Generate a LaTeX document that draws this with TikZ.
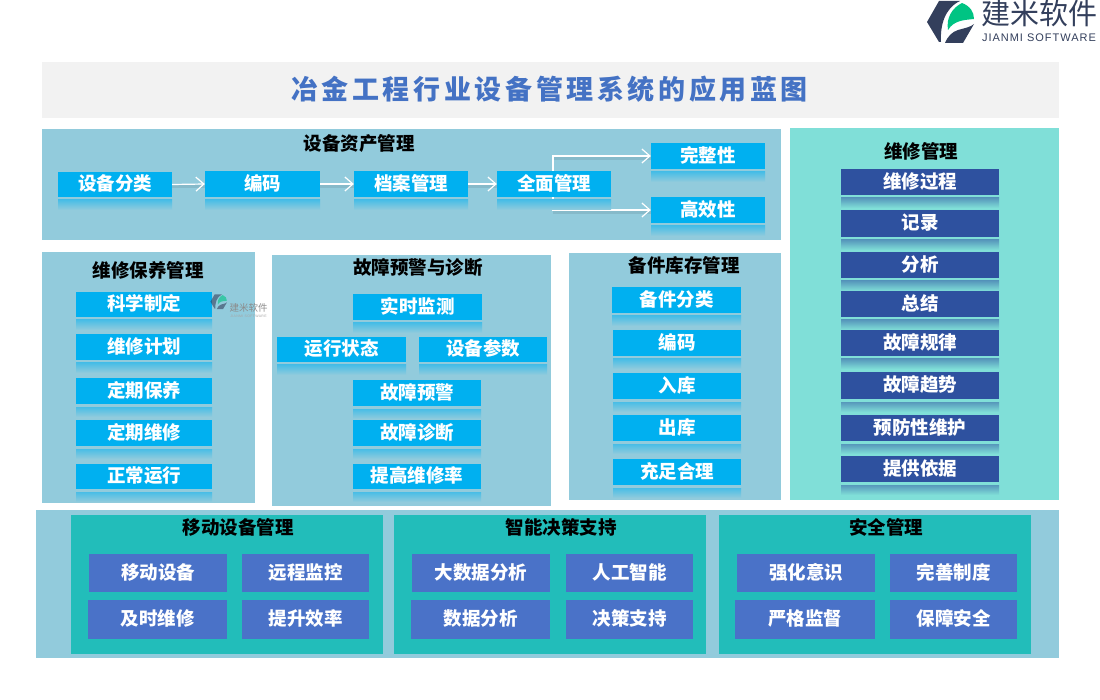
\documentclass[tikz,border=0pt]{standalone}
\usepackage{fontspec}
\setmainfont{Noto Sans CJK SC}
\newfontfamily\titlefont[LetterSpace=13.4]{Noto Sans CJK SC}
\newfontfamily\logofont[LetterSpace=9]{Liberation Sans}
\usetikzlibrary{arrows.meta}
\definecolor{panelblue}{RGB}{146,203,220}
\definecolor{panelmint}{RGB}{128,223,216}
\definecolor{panelteal}{RGB}{34,189,186}
\definecolor{skybox}{RGB}{0,176,240}
\definecolor{navybox}{RGB}{46,81,159}
\definecolor{slatebox}{RGB}{74,114,200}
\definecolor{titleblue}{RGB}{68,114,196}
\definecolor{logodark}{RGB}{51,63,92}
\definecolor{logogreen}{RGB}{0,196,131}
\tikzset{
  boxtext/.style={inner sep=0pt, text=white, font=\fontsize{18.5}{20}\selectfont\bfseries},
  paneltitle/.style={inner sep=0pt, text=black, font=\fontsize{18.5}{20}\selectfont\bfseries},
  flowline/.style={white, line width=1.2pt, -{Straight Barb[length=8pt,width=14pt]}},
  flowshadow/.style={black!40!panelblue, opacity=0.2, line width=3pt}
}
% box with its fading mirror strip under it
\newcommand{\mirrorbox}[8]{
  \shade [top color=#7!50!#8, bottom color=#8] (#3,#5+3) rectangle (#4,#5+13);
  \node [boxtext, fill=#7, minimum width={(#4-#3)*1pt}, minimum height={(#5-#2)*1pt}] (#1) at ({(#3+#4)/2},{(#2+#5)/2}) {\raisebox{1pt}[\height][\depth]{#6}};
}
% flat box of the lower row
\newcommand{\flatbox}[6]{
  \node [boxtext, fill=slatebox, minimum width={(#3-#2)*1pt}, minimum height={(#5-#4)*1pt}] (#1) at ({(#2+#3)/2},{(#4+#5)/2}) {\raisebox{0.6pt}[\height][\depth]{#6}};
}
\newcommand{\jmleaf}{
  \fill [logodark] (927,22) -- (939,1) -- (960,1) .. controls (945,8) and (940,25) .. (941,42) -- (939,42) -- cycle;
  \fill [logodark] (945,43) .. controls (948,36) and (952,32) .. (958,30) .. controls (965,28) and (971,27) .. (974,24) -- (963,43) -- cycle;
  \fill [logogreen] (948,30) .. controls (946,18) and (952,8) .. (962,3) .. controls (970,6) and (974,12) .. (974,19) .. controls (965,20) and (954,20) .. (948,30) -- cycle;
}
\begin{document}
\begin{tikzpicture}[x=1pt,y=-1pt]
\useasboundingbox (0,0) rectangle (1100,700);
\fill [white] (0,0) rectangle (1100,700);
% logo
\jmleaf
\node [inner sep=0pt, text=logodark, font=\fontsize{29}{30}\selectfont] (logoname) at (1039.5,13.5) {建米软件};
\node [inner sep=0pt, text=logodark, font=\logofont\fontsize{11}{12}\selectfont] (logoen) at (1039,38) {JIANMI SOFTWARE};
% title
\fill [black!5] (42,62) rectangle (1059,118);
\node [inner sep=0pt, text=titleblue, font=\titlefont\fontsize{27}{30}\selectfont\bfseries] (title) at (549.5,89) {冶金工程行业设备管理系统的应用蓝图};
% panels
\fill [panelblue] (42,129) rectangle (781,240);
\fill [panelblue] (42,252) rectangle (255,503);
\fill [panelblue] (272,255) rectangle (551,506);
\fill [panelblue] (569,253) rectangle (781,500);
\fill [panelmint] (790,128) rectangle (1059,500);
\fill [panelblue] (36,510) rectangle (1059,658);
\fill [panelteal] (71,515) rectangle (383,654);
\fill [panelteal] (394,515) rectangle (706,654);
\fill [panelteal] (719,515) rectangle (1031,654);
% panel titles
\node [paneltitle] (assettitle) at (359,144) {设备资产管理};
\node [paneltitle] (keeptitle) at (148,270) {维修保养管理};
\node [paneltitle] (faulttitle) at (418,267) {故障预警与诊断};
\node [paneltitle] (sparetitle) at (684,265) {备件库存管理};
\node [paneltitle] (repairtitle) at (921,151) {维修管理};
\node [paneltitle] (mobiletitle) at (238,527) {移动设备管理};
\node [paneltitle] (smarttitle) at (561,527) {智能决策支持};
\node [paneltitle] (safetitle) at (886,527) {安全管理};
% asset row
\mirrorbox{fenlei}{172}{58}{172}{197}{设备分类}{skybox}{panelblue}
\mirrorbox{bianma}{171}{205}{320}{197}{编码}{skybox}{panelblue}
\mirrorbox{dangan}{171}{354}{468}{197}{档案管理}{skybox}{panelblue}
\mirrorbox{wanzheng}{143}{651}{765}{169}{完整性}{skybox}{panelblue}
\mirrorbox{gaoxiao}{197}{651}{765}{223}{高效性}{skybox}{panelblue}
\coordinate (upout) at (553,171);
\coordinate (downout) at (553,197);
\draw [flowshadow] (172,187) -- (205,187);
\draw [flowshadow] (320,187) -- (354,187);
\draw [flowshadow] (468,187) -- (497,187);
\draw [flowshadow] (553,159) -- (651,159);
\draw [flowshadow] (553,213) -- (651,213);
\draw [flowline] (fenlei.east) -- (bianma.west);
\draw [flowline] (bianma.east) -- (dangan.west);
\draw [flowline] (upout) |- (wanzheng.west);
\draw [flowline] (downout) |- (gaoxiao.west);
\mirrorbox{quanmian}{171}{497}{611}{197}{全面管理}{skybox}{panelblue}
\draw [flowline] (dangan.east) -- (quanmian.west);
% keep column
\mirrorbox{kexue}{292}{76}{212}{317}{科学制定}{skybox}{panelblue}
\mirrorbox{jihua}{334}{76}{212}{360}{维修计划}{skybox}{panelblue}
\mirrorbox{baoyang}{378}{76}{212}{404}{定期保养}{skybox}{panelblue}
\mirrorbox{weixiu}{420}{76}{212}{446}{定期维修}{skybox}{panelblue}
\mirrorbox{yunxing}{464}{76}{212}{489}{正常运行}{skybox}{panelblue}
% fault column
\mirrorbox{jiance}{294}{353}{482}{320}{实时监测}{skybox}{panelblue}
\mirrorbox{zhuangtai}{337}{277}{406}{362}{运行状态}{skybox}{panelblue}
\mirrorbox{canshu}{337}{419}{547}{362}{设备参数}{skybox}{panelblue}
\mirrorbox{yujing}{380}{353}{481}{406}{故障预警}{skybox}{panelblue}
\mirrorbox{zhenduan}{420}{353}{481}{446}{故障诊断}{skybox}{panelblue}
\mirrorbox{tigao}{464}{353}{481}{489}{提高维修率}{skybox}{panelblue}
% spare column
\mirrorbox{beijian}{287}{612}{741}{313}{备件分类}{skybox}{panelblue}
\mirrorbox{spcode}{330}{613}{741}{356}{编码}{skybox}{panelblue}
\mirrorbox{ruku}{373}{613}{741}{399}{入库}{skybox}{panelblue}
\mirrorbox{chuku}{415}{613}{741}{441}{出库}{skybox}{panelblue}
\mirrorbox{chongzu}{459}{613}{741}{485}{充足合理}{skybox}{panelblue}
% repair column
\mirrorbox{guocheng}{169}{841}{999}{195}{维修过程}{navybox}{panelmint}
\mirrorbox{jilu}{210}{841}{999}{237}{记录}{navybox}{panelmint}
\mirrorbox{fenxi}{252}{841}{999}{278}{分析}{navybox}{panelmint}
\mirrorbox{zongjie}{291}{841}{999}{317}{总结}{navybox}{panelmint}
\mirrorbox{guilv}{330}{841}{999}{356}{故障规律}{navybox}{panelmint}
\mirrorbox{qushi}{372}{841}{999}{399}{故障趋势}{navybox}{panelmint}
\mirrorbox{yufang}{415}{841}{999}{441}{预防性维护}{navybox}{panelmint}
\mirrorbox{yiju}{456}{841}{999}{482}{提供依据}{navybox}{panelmint}
% lower row
\flatbox{yidong}{89}{227}{554}{592}{移动设备}
\flatbox{yuancheng}{242}{369}{554}{592}{远程监控}
\flatbox{jishi}{88}{227}{600}{639}{及时维修}
\flatbox{xiaolv}{242}{369}{600}{639}{提升效率}
\flatbox{dashuju}{412}{550}{554}{592}{大数据分析}
\flatbox{rengong}{566}{693}{554}{592}{人工智能}
\flatbox{shuju}{411}{550}{600}{639}{数据分析}
\flatbox{juece}{566}{693}{600}{639}{决策支持}
\flatbox{yishi}{737}{875}{554}{592}{强化意识}
\flatbox{zhidu}{890}{1017}{554}{592}{完善制度}
\flatbox{jiandu}{735}{875}{600}{639}{严格监督}
\flatbox{anquan}{890}{1017}{600}{639}{保障安全}
% watermark
\begin{scope}[shift={(-114,294)}, scale=0.35, opacity=0.6]
\jmleaf
\end{scope}
\node [inner sep=0pt, text=black!45, font=\fontsize{9.5}{10}\selectfont] (markname) at (248.5,308) {建米软件};
\node [inner sep=0pt, text=black!35, font=\logofont\fontsize{3.5}{4}\selectfont] (markeng) at (248.5,316.5) {JIANMI SOFTWARE};
\end{tikzpicture}
\end{document}
